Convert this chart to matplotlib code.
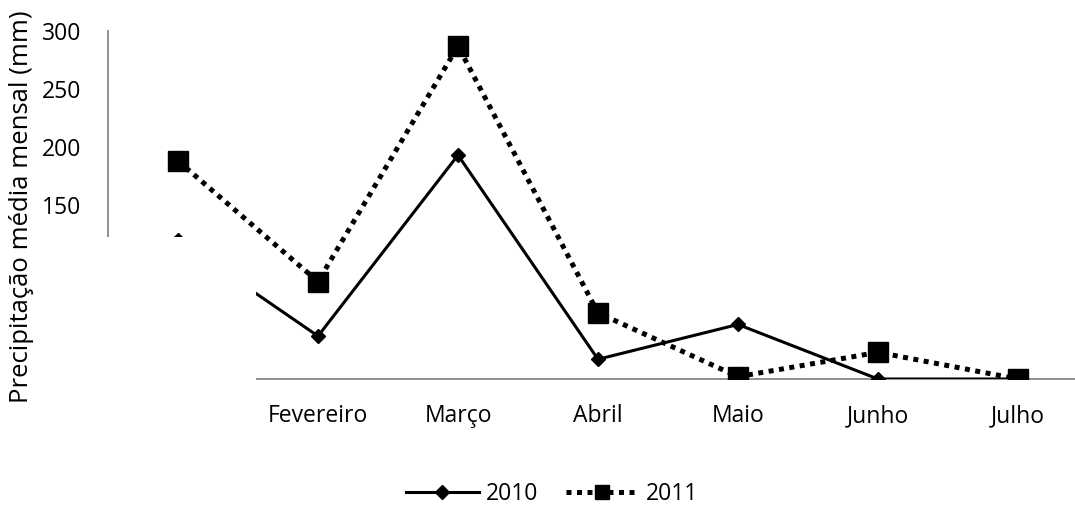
import matplotlib.pyplot as plt
from matplotlib.patches import Rectangle

# --- donnees ---
meses = ['Janeiro', 'Fevereiro', 'Março', 'Abril', 'Maio', 'Junho', 'Julho']
chuva_2010 = [120, 37, 193, 17, 47, 0, 0]
chuva_2011 = [188, 84, 287, 57, 2, 23, 0]
yticks = [0, 50, 100, 150, 200, 250, 300]

plt.rcParams['font.family'] = ['Open Sans', 'DejaVu Sans']

W, H = 1075, 513
fig = plt.figure(figsize=(W / 100, H / 100), dpi=100)
ax = fig.add_axes([108 / W, (H - 379) / H, 980 / W, 348 / H])

x = list(range(len(meses)))
ax.plot(x, chuva_2010, color='black', lw=2.2, marker='D', ms=7.5,
        label='2010', zorder=3)
ax.plot(x, chuva_2011, color='black', lw=3.6, ls=(0, (1, 1.1)),
        dash_capstyle='butt', marker='s', ms=14, label='2011', zorder=3)

ax.set_xlim(-0.5, 6.5)
ax.set_ylim(0, 300)
ax.set_xticks(x)
ax.set_xticklabels(meses)
ax.set_yticks(yticks)
ax.tick_params(length=0, labelsize=16.5)
ax.tick_params(axis='y', pad=19)
ax.tick_params(axis='x', pad=18)

for s in ['top', 'right']:
    ax.spines[s].set_visible(False)
for s in ['left', 'bottom']:
    ax.spines[s].set_color('#888888')
    ax.spines[s].set_linewidth(1.3)

# cache blanc sur le coin bas-gauche
fig.patches.append(Rectangle((44 / W, (H - 450) / H), 212 / W, 213 / H,
                             transform=fig.transFigure, facecolor='white',
                             edgecolor='none', zorder=1))

fig.text(22 / W, (H - 207) / H, 'Precipitação média mensal (mm)',
         rotation=90, ha='center', va='center', fontsize=18.5, zorder=3)

leg = fig.legend(loc='center', bbox_to_anchor=(552 / W, (H - 494) / H), ncol=2,
                 frameon=False, fontsize=16.5, handlelength=3.2,
                 columnspacing=1.2, handletextpad=0.3)
leg.legend_handles[1].set_markersize(10)

fig.savefig('out.png', dpi=100)
